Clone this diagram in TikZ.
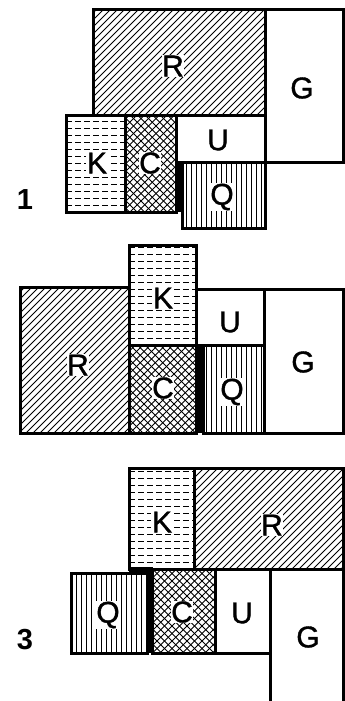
\documentclass[tikz,border=0pt]{standalone}
\usepackage{fontspec}
\setmainfont{Liberation Sans}
\newfontface\lblface{Liberation Sans}[FakeBold=1.2]
\tikzset{
  frame/.style={line width=3pt, line join=miter, line cap=rect},
  hatch/.style={line width=0.9pt},
  lbl/.style={font=\lblface\fontsize{30}{30}\selectfont, fill=white, inner sep=0.5pt},
  num/.style={font=\bfseries\fontsize{29}{29}\selectfont, inner sep=0pt},
  bar/.style={fill=black, draw=none}
}
\newcommand{\diagpat}[4]{%
  \begin{scope}\clip (#1,#2) rectangle (#3,#4);
  \foreach \k in {-170,-163,...,345} \draw[hatch] (\k,#4) -- ++(170,-170);
  \end{scope}}
\newcommand{\crosspat}[4]{%
  \begin{scope}\clip (#1,#2) rectangle (#3,#4);
  \foreach \k in {-170,-162.5,...,345} {\draw[hatch,line width=0.8pt] (\k,#4) -- ++(170,-170);
    \draw[hatch,line width=0.8pt] (\k,#2) -- ++(170,170);}
  \end{scope}}
\newcommand{\vertpat}[4]{%
  \begin{scope}\clip (#1,#2) rectangle (#3,#4);
  \foreach \k in {1,6,...,345} \draw[hatch] (\k,#2) -- (\k,#4);
  \end{scope}}
\newcommand{\dashpat}[4]{%
  \begin{scope}\clip (#1,#2) rectangle (#3,#4);
  \foreach \k in {2,9,...,701} \draw[hatch,dash pattern=on 5.5pt off 3.5pt] (#1,\k) -- (#3,\k);
  \end{scope}}
\begin{document}
\begin{tikzpicture}[x=1pt,y=-1pt]
\useasboundingbox (0,0) rectangle (345,701);
% ---------- Panel 1 ----------
\diagpat{93}{10}{265}{115}
\dashpat{66}{115}{125}{212}
\crosspat{125}{115}{176}{212}
\vertpat{182}{162}{265}{228}
\draw[frame] (93,10) rectangle (265,115);
\draw[frame] (265,10) rectangle (343,162);
\draw[frame] (66,115) rectangle (125,212);
\draw[frame] (125,115) rectangle (176,212);
\draw[frame] (176,115) rectangle (265,162);
\draw[frame] (182,162) rectangle (265,228);
\fill[bar] (175,162) rectangle (183,212);
\node[lbl] (r1) at (173,66) {R};
\node[lbl] (g1) at (302,88) {G};
\node[lbl] (k1) at (97,163) {K};
\node[lbl] (c1) at (150,163) {C};
\node[lbl] (u1) at (218,140) {U};
\node[lbl] (q1) at (222,197) {Q};
\node[num] (n1) at (25,200) {1};
% ---------- Panel 2 ----------
\dashpat{129}{245}{196}{345}
\diagpat{20}{287}{129}{433}
\crosspat{129}{345}{196}{433}
\vertpat{203}{345}{264}{433}
\draw[frame] (129,245) rectangle (196,345);
\draw[frame] (20,287) rectangle (129,433);
\draw[frame] (129,345) rectangle (196,433);
\draw[frame] (196,289) rectangle (264,345);
\draw[frame] (203,345) rectangle (264,433);
\draw[frame] (264,289) rectangle (343,433);
\fill[bar] (195,345) rectangle (204,433);
\node[lbl] (k2) at (163,298) {K};
\node[lbl] (r2) at (78,365) {R};
\node[lbl] (c2) at (163,388) {C};
\node[lbl] (u2) at (230,322) {U};
\node[lbl] (q2) at (232,392) {Q};
\node[lbl] (g2) at (303,362) {G};
% ---------- Panel 3 ----------
\dashpat{129}{468}{194}{569}
\diagpat{194}{468}{343}{569}
\vertpat{71}{573}{147}{653}
\crosspat{152}{569}{215}{653}
\draw[frame] (129,468) rectangle (194,569);
\draw[frame] (194,468) rectangle (343,569);
\draw[frame] (71,573) rectangle (147,653);
\draw[frame] (152,569) rectangle (215,653);
\draw[frame] (215,569) rectangle (270,653);
\draw[frame] (270,701) -- (270,569) -- (343,569) -- (343,701);
\fill[bar] (146,567) rectangle (153,653);
\fill[bar] (129,567) rectangle (153,574);
\node[lbl] (k3) at (162,522) {K};
\node[lbl] (r3) at (272,525) {R};
\node[lbl] (q3) at (108,615) {Q};
\node[lbl] (c3) at (182,612) {C};
\node[lbl] (u3) at (242,613) {U};
\node[lbl] (g3) at (308,637) {G};
\node[num] (n3) at (25,640) {3};
\end{tikzpicture}
\end{document}
